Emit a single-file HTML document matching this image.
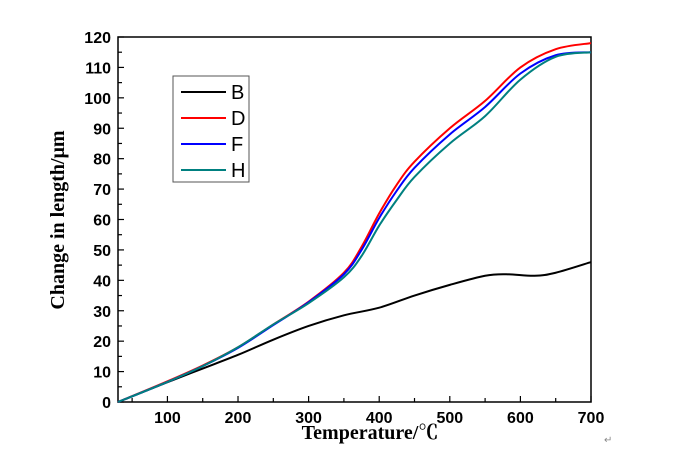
<!DOCTYPE html>
<html><head><meta charset="utf-8"><style>
body{margin:0;background:#fff;}
svg{display:block;}
.tl{font-family:"Liberation Sans",sans-serif;font-weight:bold;font-size:16px;fill:#000;}
.tt{font-family:"Liberation Serif","Noto Serif CJK SC",serif;font-weight:bold;font-size:20px;fill:#000;}
.lg{font-family:"Liberation Sans",sans-serif;font-size:20px;fill:#000;}
</style></head><body>
<svg id="chart" width="675" height="459" viewBox="0 0 675 459" xmlns="http://www.w3.org/2000/svg">
<g id="plot"></g>
</svg>
<script>
const tempB=[30,100,150,200,250,300,350,400,450,500,550,580,620,650,700];
const valB=[0,6.5,11,15.5,20.5,25,28.5,31,35,38.5,41.5,42,41.5,42.5,46];
const tempD=[30,100,150,200,250,300,350,375,400,425,450,500,550,600,650,700];
const valD=[0,6.8,12,18,25.5,33,42.5,51,62,71.5,79,90,99,110,116,118];
const tempF=[30,100,150,200,250,300,350,375,400,425,450,500,550,600,650,700];
const valF=[0,6.6,11.8,17.8,25.3,32.8,42,50,60.5,69.5,77,88,97,108,114,115];
const tempH=[30,100,150,200,250,300,350,375,400,425,450,500,550,600,650,700];
const valH=[0,6.6,11.8,18,25.5,32.5,41,48,58,66.5,74,85,94,106,113.5,115];
const xTicks=[100,200,300,400,500,600,700];
const yTicks=[0,10,20,30,40,50,60,70,80,90,100,110,120];
const legendLabels=["B","D","F","H"];
const colors=["#000000","#ff0000","#0000ff","#008080"];

const NS="http://www.w3.org/2000/svg";
const X0=118,X1=591,Y0=402,Y1=37;
function xs(t){return X0+(t-30)/(700-30)*(X1-X0);}
function ys(v){return Y0-v/120*(Y0-Y1);}
const g=document.getElementById('plot');
function mk(tag,attrs,parent){const e=document.createElementNS(NS,tag);for(const k in attrs)e.setAttribute(k,attrs[k]);(parent||g).appendChild(e);return e;}

const frame=mk('rect',{x:X0,y:Y1,width:X1-X0,height:Y0-Y1,fill:'none',stroke:'#000','stroke-width':1.5});



for(let t=50;t<=700;t+=50){
  const major=t%100===0;
  const l=mk('line',{x1:xs(t),x2:xs(t),y1:Y0,y2:Y0-(major?6:4),stroke:'#000','stroke-width':1.2});
  
  
}
xTicks.forEach(t=>{
  const e=mk('text',{x:xs(t),y:Y0+21,'text-anchor':'middle',class:'tl'});
  e.textContent=t;
  
  
});
for(let v=0;v<=120;v+=5){
  const major=v%10===0;
  const l=mk('line',{x1:X0,x2:X0+(major?6:4),y1:ys(v),y2:ys(v),stroke:'#000','stroke-width':1.2});
  
  
}
yTicks.forEach(v=>{
  const e=mk('text',{x:X0-7,y:ys(v)+6,'text-anchor':'end',class:'tl'});
  e.textContent=v;
  
  
});
const xt=mk('text',{x:370,y:439,'text-anchor':'middle',class:'tt'});
xt.textContent='Temperature/℃';


const yt=mk('text',{x:0,y:0,'text-anchor':'middle',class:'tt',transform:'translate(64,220) rotate(-90)'});
yt.textContent='Change in length/μm';



function pathFor(ts,vs){
  const p=ts.map((t,i)=>[xs(t),ys(vs[i])]);
  let d='M'+p[0][0]+','+p[0][1];
  for(let i=0;i<p.length-1;i++){
    const a=p[Math.max(0,i-1)],b=p[i],c=p[i+1],e=p[Math.min(p.length-1,i+2)];
    const c1=[b[0]+(c[0]-a[0])/6,b[1]+(c[1]-a[1])/6];
    const c2=[c[0]-(e[0]-b[0])/6,c[1]-(e[1]-b[1])/6];
    d+=' C'+c1[0]+','+c1[1]+' '+c2[0]+','+c2[1]+' '+c[0]+','+c[1];
  }
  return d;
}
const series=[[tempB,valB],[tempD,valD],[tempF,valF],[tempH,valH]];
series.forEach((s,i)=>{
  const p=mk('path',{d:pathFor(s[0],s[1]),fill:'none',stroke:colors[i],'stroke-width':2});
  
  
});
const lb=mk('rect',{x:173,y:76,width:76,height:106,fill:'#fff',stroke:'#555','stroke-width':1});


legendLabels.forEach((lab,i)=>{
  const y=92+i*26;
  const l=mk('line',{x1:181,x2:226,y1:y,y2:y,stroke:colors[i],'stroke-width':2});
  
  
  const t=mk('text',{x:231,y:y+7,class:'lg'});
  t.textContent=lab;
  
  
});
const ar=mk('text',{x:604,y:443,style:'font-size:10px;fill:#888;font-family:"Liberation Sans",sans-serif'});
ar.textContent='↵';


</script>
</body></html>
